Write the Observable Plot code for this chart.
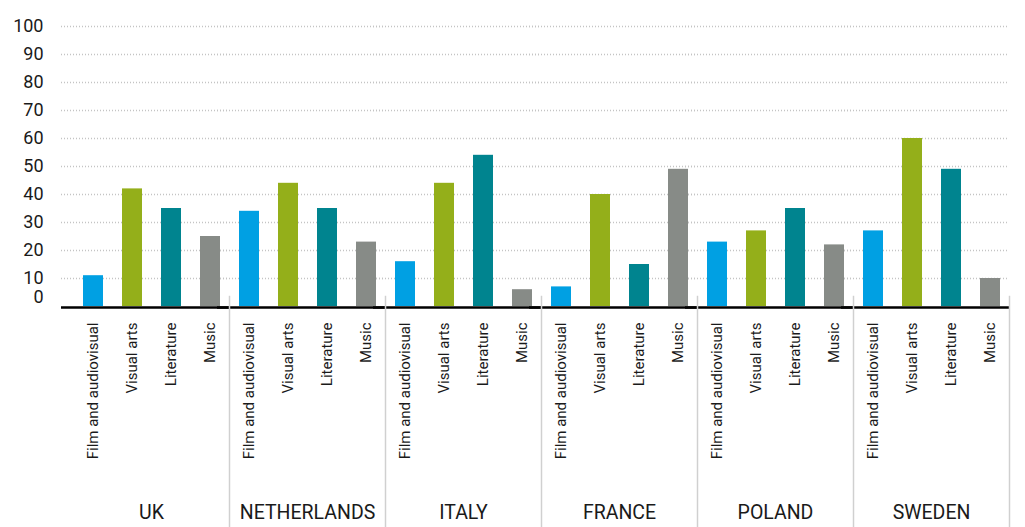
<!DOCTYPE html>
<html>
<head>
<meta charset="utf-8">
<script src="https://cdn.jsdelivr.net/npm/d3@7"></script>
<script src="https://cdn.jsdelivr.net/npm/@observablehq/plot@0.6"></script>
<style>
  html, body { margin: 0; padding: 0; background: #fff; }
  #chart svg { display: block; }
</style>
</head>
<body>
<div id="chart"></div>
<script>
const countries = ["UK", "NETHERLANDS", "ITALY", "FRANCE", "POLAND", "SWEDEN"];
const categories = ["Film and audiovisual", "Visual arts", "Literature", "Music"];
const film = [11, 34, 16, 7, 23, 27];
const visualArts = [42, 44, 44, 40, 27, 60];
const literature = [35, 35, 54, 15, 35, 49];
const music = [25, 23, 6, 49, 22, 10];
const yTicks = [10, 20, 30, 40, 50, 60, 70, 80, 90, 100];
const zeroTick = [0];
const colors = ["#00a0e3", "#94af1a", "#00848f", "#878b87"];

const series = [film, visualArts, literature, music];
const data = [];
countries.forEach((c, i) => {
  categories.forEach((cat, j) => {
    data.push({country: c, category: cat, value: series[j][i]});
  });
});

const chart = Plot.plot({
  width: 1025,
  height: 527,
  marginLeft: 73,
  marginRight: 16,
  marginTop: 26,
  marginBottom: 221,
  style: {fontFamily: "Roboto, sans-serif", color: "#1a1a1a", background: "#fff"},
  fx: {domain: countries, padding: 0},
  x: {domain: categories, paddingInner: 0.49, paddingOuter: 0.245},
  y: {domain: [0, 100], range: [306, 26]},
  color: {domain: categories, range: colors},
  marks: [
    Plot.ruleY(yTicks, {stroke: "#c4c4c4", strokeWidth: 1.5, strokeDasharray: "1,2", insetLeft: -12}),
    Plot.barY(data, {fx: "country", x: "category", y: "value", fill: "category"}),
    Plot.ruleY(zeroTick, {stroke: "#000", strokeWidth: 2.5, insetLeft: -12, dy: 1}),
    Plot.frame({anchor: "right", stroke: "#d0d0d0", strokeWidth: 1.5, insetTop: 270, insetBottom: -221}),
    Plot.axisY({ticks: yTicks, tickSize: 0, tickPadding: 30, fontSize: 18, label: null}),
    Plot.axisY({ticks: zeroTick, tickSize: 0, tickPadding: 30, fontSize: 18, label: null, dy: -9}),
    Plot.axisX({anchor: "bottom", tickSize: 0, tickPadding: 16, tickRotate: -90, fontSize: 15, label: null}),
    Plot.axisFx({anchor: "bottom", tickSize: 0, tickPadding: 199, fontSize: 19.5, label: null})
  ]
});
document.getElementById("chart").appendChild(chart);
</script>
</body>
</html>
